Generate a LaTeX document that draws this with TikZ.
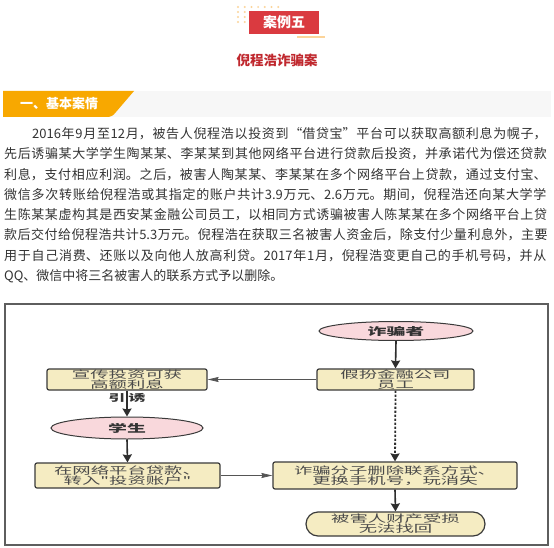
\documentclass[tikz,border=0pt]{standalone}
\usepackage{fontspec}
\usetikzlibrary{shapes.geometric,shapes.misc,arrows.meta}
\newfontfamily\cjk{Noto Sans CJK SC}
\newfontfamily\diagf[FakeStretch=1.8]{Noto Sans CJK SC}
\XeTeXlinebreaklocale "zh"
\XeTeXlinebreakskip=0pt plus 5pt
\XeTeXlinebreakpenalty=10000
\hbadness=10000
\hfuzz=20pt
\definecolor{bodyc}{HTML}{333333}
\definecolor{redbox}{HTML}{DA3A40}
\definecolor{titlec}{HTML}{C0282E}
\definecolor{dotc}{HTML}{FCD49A}
\definecolor{orangec}{HTML}{F8A800}
\definecolor{bannerg}{HTML}{F7F7F7}
\definecolor{framec}{HTML}{5E5E5E}
\definecolor{boxline}{HTML}{3A3A3A}
\definecolor{boxfill}{HTML}{F5ECC2}
\definecolor{pinkfill}{HTML}{F9D8DC}
\definecolor{boxtext}{HTML}{4A4A4A}
\definecolor{arrowc}{HTML}{2E2E2E}
\definecolor{thinc}{HTML}{555555}
\tikzset{
  bl/.style={anchor=base west, inner sep=0pt, text width=546pt, text=bodyc,
    font=\cjk\fontsize{13}{20}\selectfont, execute at begin node={\parfillskip=0pt\relax}},
  blast/.style={anchor=base west, inner sep=0pt, text width=546pt, text=bodyc,
    font=\cjk\fontsize{13}{20}\selectfont},
  fbox/.style={draw=boxline, fill=boxfill, line width=1.2pt, rounded corners=2pt,
    inner sep=0pt, align=center, text=boxtext, font=\diagf\fontsize{10.2}{10}\selectfont},
  oval/.style={ellipse, draw=boxline, fill=pinkfill, line width=1pt, inner sep=0pt,
    text=bodyc, font=\diagf\bfseries\fontsize{10.5}{10.5}\selectfont},
  tharrow/.style={draw=arrowc, line width=1.6pt, -{Stealth[length=8pt,width=9pt,inset=1pt]}},
  thinarrow/.style={draw=thinc, line width=0.8pt, -{Stealth[length=11pt,width=5pt,inset=1pt]}},
  dotarrow/.style={draw=arrowc, line width=1.8pt, dash pattern=on 2.2pt off 1.8pt,
    -{Stealth[length=8pt,width=9pt,inset=1pt]}}
}
\begin{document}
\begin{tikzpicture}[x=1pt,y=-1pt]
\useasboundingbox[fill=white] (0,0) rectangle (554,548);
% header
\foreach \r in {0,...,3}{\foreach \c in {0,...,6}{\fill[dotc] ({238+\c*6.7},{7+\r*5}) circle (1.1pt);}}
\node[fill=redbox, minimum width=70pt, minimum height=23pt, inner sep=0pt, text=white,
  font=\cjk\bfseries\fontsize{14}{14}\selectfont] (case) at (284,22.5) {案例五};
\coordinate (ul1) at (297,37);
\coordinate (ul2) at (325,37);
\draw[dotc, line width=1.2pt] (ul1) -- (ul2);
\node[text=titlec, font=\cjk\bfseries\fontsize{13.5}{13.5}\selectfont, inner sep=0pt] (title) at (277,60) {倪程浩诈骗案};
% banner
\fill[bannerg] (3,91) rectangle (551,117);
\fill[orangec] (3,91) -- (134,91) -- (116,112) .. controls (113,116) and (111,117) .. (106,117) -- (3,117) -- cycle;
\node[anchor=west, inner sep=0pt, text=white, font=\cjk\bfseries\fontsize{13}{13}\selectfont] (ban) at (20,104) {一、基本案情};
% body text
\node[bl] (l1) at (4,138.5) {\hspace*{28pt}2016年9月至12月，被告人倪程浩以投资到“借贷宝”平台可以获取高额利息为幌子，};
\node[bl] (l2) at (4,158.8) {先后诱骗某大学学生陶某某、李某某到其他网络平台进行贷款后投资，并承诺代为偿还贷款};
\node[bl] (l3) at (4,179.1) {利息，支付相应利润。之后，被害人陶某某、李某某在多个网络平台上贷款，通过支付宝、};
\node[bl] (l4) at (4,199.4) {微信多次转账给倪程浩或其指定的账户共计3.9万元、2.6万元。期间，倪程浩还向某大学学};
\node[bl] (l5) at (4,219.7) {生陈某某虚构其是西安某金融公司员工，以相同方式诱骗被害人陈某某在多个网络平台上贷};
\node[bl] (l6) at (4,240.0) {款后交付给倪程浩共计5.3万元。倪程浩在获取三名被害人资金后，除支付少量利息外，主要};
\node[bl] (l7) at (4,260.3) {用于自己消费、还账以及向他人放高利贷。2017年1月，倪程浩变更自己的手机号码，并从};
\node[blast] (l8) at (4,280.6) {QQ、微信中将三名被害人的联系方式予以删除。};
% frame
\draw[framec, line width=1.3pt] (5,304) rectangle (548,545);
% diagram nodes
\node[oval, minimum width=154pt, minimum height=19pt] (zpz) at (396,331) {诈骗者};
\node[fbox, minimum width=157pt, minimum height=21pt] (jb) at (395.5,379.5) {假扮金融公司\\员工};
\node[fbox, minimum width=160pt, minimum height=21pt] (xc) at (127,379.5) {宣传投资可获\\高额利息};
\node[oval, minimum width=152pt, minimum height=22pt] (xs) at (127,428) {学生};
\node[fbox, minimum width=185pt, minimum height=25pt] (zw) at (127.5,475.5) {在网络平台贷款、\\转入"投资账户"};
\node[fbox, minimum width=244pt, minimum height=27pt] (zf) at (395,475.5) {诈骗分子删除联系方式、\\更换手机号，玩消失};
\node[fbox, rounded rectangle, rounded corners=0pt, minimum width=179pt, minimum height=24pt] (bh) at (395.5,524) {被害人财产受损\\无法找回};
% connectors
\draw[tharrow] (zpz.south) -- (jb.north);
\draw[thinarrow] (jb.west) -- (xc.east);
\draw[tharrow] (xc.south) -- (xs.north);
\node[inner sep=0pt, text=bodyc, font=\diagf\bfseries\fontsize{9.5}{9.5}\selectfont] (yy) at (127,398) {引\hspace{3pt}诱};
\draw[tharrow] (xs.south) -- (zw.north);
\draw[thinarrow] (zw.east) -- (zf.west);
\draw[dotarrow] (jb.south) -- (zf.north);
\draw[tharrow] (zf.south) -- (bh.north);
\end{tikzpicture}
\end{document}
